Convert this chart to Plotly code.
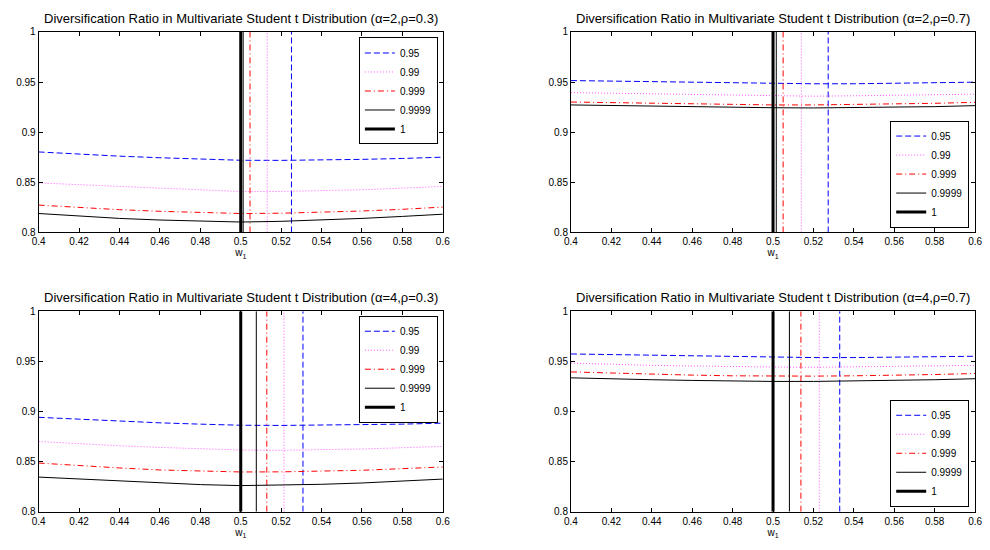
import plotly.graph_objects as go

# ---------------- data ----------------
w1 = [0.40, 0.42, 0.44, 0.46, 0.48, 0.50, 0.52, 0.54, 0.56, 0.58, 0.60]
quantiles = ["0.95", "0.99", "0.999", "0.9999", "1"]
x_ticks = [0.40, 0.42, 0.44, 0.46, 0.48, 0.50, 0.52, 0.54, 0.56, 0.58, 0.60]
x_ticklabels = ["0.4", "0.42", "0.44", "0.46", "0.48", "0.5", "0.52", "0.54", "0.56", "0.58", "0.6"]
y_ticks = [0.80, 0.85, 0.90, 0.95, 1.00]
y_ticklabels = ["0.8", "0.85", "0.9", "0.95", "1"]
y_range = [0.8, 1.0]

titles = [
    "Diversification Ratio in Multivariate Student t Distribution (α=2,ρ=0.3)",
    "Diversification Ratio in Multivariate Student t Distribution (α=2,ρ=0.7)",
    "Diversification Ratio in Multivariate Student t Distribution (α=4,ρ=0.3)",
    "Diversification Ratio in Multivariate Student t Distribution (α=4,ρ=0.7)",
]

# panel 1: alpha=2, rho=0.3
p1_095 = [0.8803, 0.8781, 0.8761, 0.8745, 0.8732, 0.8720, 0.8719, 0.8722, 0.8729, 0.8738, 0.8751]
p1_099 = [0.8494, 0.8475, 0.8459, 0.8442, 0.8426, 0.8408, 0.8409, 0.8416, 0.8426, 0.8442, 0.8459]
p1_0999 = [0.8273, 0.8247, 0.8227, 0.8211, 0.8198, 0.8189, 0.8192, 0.8201, 0.8214, 0.8231, 0.8253]
p1_09999 = [0.8189, 0.8163, 0.8140, 0.8124, 0.8111, 0.8104, 0.8111, 0.8124, 0.8140, 0.8160, 0.8182]
p1_opt = [0.5251, 0.5131, 0.5046, 0.5012, 0.5000]

# panel 2: alpha=2, rho=0.7
p2_095 = [0.9515, 0.9509, 0.9502, 0.9499, 0.9493, 0.9485, 0.9483, 0.9483, 0.9486, 0.9493, 0.9499]
p2_099 = [0.9395, 0.9389, 0.9382, 0.9376, 0.9369, 0.9361, 0.9359, 0.9363, 0.9366, 0.9372, 0.9379]
p2_0999 = [0.9301, 0.9294, 0.9288, 0.9281, 0.9275, 0.9272, 0.9272, 0.9275, 0.9281, 0.9288, 0.9298]
p2_09999 = [0.9272, 0.9265, 0.9259, 0.9252, 0.9249, 0.9244, 0.9242, 0.9246, 0.9249, 0.9255, 0.9265]
p2_opt = [0.5273, 0.5140, 0.5050, 0.5016, 0.5000]

# panel 3: alpha=4, rho=0.3
p3_095 = [0.8941, 0.8921, 0.8902, 0.8886, 0.8873, 0.8862, 0.8860, 0.8863, 0.8866, 0.8873, 0.8883]
p3_099 = [0.8700, 0.8677, 0.8657, 0.8641, 0.8628, 0.8615, 0.8612, 0.8615, 0.8625, 0.8638, 0.8651]
p3_0999 = [0.8485, 0.8459, 0.8436, 0.8416, 0.8403, 0.8396, 0.8397, 0.8403, 0.8413, 0.8429, 0.8446]
p3_09999 = [0.8345, 0.8325, 0.8306, 0.8286, 0.8270, 0.8260, 0.8263, 0.8273, 0.8286, 0.8302, 0.8325]
p3_opt = [0.5308, 0.5214, 0.5129, 0.5077, 0.5000]

# panel 4: alpha=4, rho=0.7
p4_095 = [0.9573, 0.9567, 0.9560, 0.9554, 0.9547, 0.9540, 0.9537, 0.9537, 0.9540, 0.9544, 0.9550]
p4_099 = [0.9482, 0.9469, 0.9459, 0.9453, 0.9446, 0.9443, 0.9440, 0.9443, 0.9446, 0.9453, 0.9459]
p4_0999 = [0.9394, 0.9381, 0.9371, 0.9362, 0.9355, 0.9352, 0.9352, 0.9355, 0.9358, 0.9368, 0.9378]
p4_09999 = [0.9335, 0.9322, 0.9316, 0.9309, 0.9303, 0.9299, 0.9299, 0.9303, 0.9306, 0.9316, 0.9326]
p4_opt = [0.5330, 0.5229, 0.5138, 0.5081, 0.5000]

panels = [
    ([p1_095, p1_099, p1_0999, p1_09999], p1_opt),
    ([p2_095, p2_099, p2_0999, p2_09999], p2_opt),
    ([p3_095, p3_099, p3_0999, p3_09999], p3_opt),
    ([p4_095, p4_099, p4_0999, p4_09999], p4_opt),
]

# ---------------- styles / layout ----------------
styles = [
    dict(color="#0000ff", width=1, dash="6px,3px"),
    dict(color="#ff55ff", width=1, dash="1px,2px"),
    dict(color="#ff0000", width=1, dash="6px,3px,1px,3px"),
    dict(color="#000000", width=1, dash="solid"),
    dict(color="#000000", width=3, dash="solid"),
]

# the page body adds an 8px margin, so the figure is laid out 8px up/left
OFF = 8
W, H = 990 - OFF, 550 - OFF


def px_x(v):
    return (v - OFF) / W


def px_y(v):
    return 1 - (v - OFF) / H


xdom = [[px_x(32), px_x(442)], [px_x(572), px_x(982)], [px_x(32), px_x(442)], [px_x(572), px_x(982)]]
ydom = [[px_y(232), px_y(27.33)], [px_y(232), px_y(27.33)],
        [px_y(517), px_y(312.33)], [px_y(517), px_y(312.33)]]
legend_pos = [
    dict(x=px_x(437), y=px_y(33), xanchor="right", yanchor="top"),
    dict(x=px_x(976), y=px_y(227), xanchor="right", yanchor="bottom"),
    dict(x=px_x(437), y=px_y(317), xanchor="right", yanchor="top"),
    dict(x=px_x(976), y=px_y(512), xanchor="right", yanchor="bottom"),
]
title_y = [14, 14, 298, 298]

FONT = "Liberation Sans, Arial, Helvetica, sans-serif"

fig = go.Figure()
layout = dict(
    width=W, height=H, margin=dict(l=0, r=0, t=0, b=0),
    paper_bgcolor="white", plot_bgcolor="white",
    font=dict(family=FONT, size=10, color="black"),
    annotations=[],
)

for i, (curves, opt) in enumerate(panels):
    k = "" if i == 0 else str(i + 1)
    xa, ya = "x" + k, "y" + k
    leg = "legend" + k
    for j, q in enumerate(quantiles):
        if j < len(curves):
            xs = list(w1) + [None, opt[j], opt[j]]
            ys = list(curves[j]) + [None, y_range[0], y_range[1]]
        else:
            xs = [opt[j], opt[j]]
            ys = [y_range[0], y_range[1]]
        fig.add_trace(go.Scatter(
            x=xs, y=ys, mode="lines", name=q, line=styles[j],
            xaxis=xa, yaxis=ya, legend=leg, connectgaps=False,
            hoverinfo="skip",
        ))
    axcommon = dict(showline=True, linecolor="black", linewidth=1, mirror="ticks",
                    ticks="inside", ticklen=4, tickcolor="black", tickwidth=1,
                    showgrid=False, zeroline=False, ticklabeloverflow="allow",
                    tickfont=dict(family=FONT, size=10, color="black"))
    layout["xaxis" + k] = dict(
        axcommon, domain=xdom[i], range=[0.4, 0.6], tickvals=x_ticks,
        ticktext=x_ticklabels, anchor=ya,
        title=dict(text="w<sub>1</sub>", font=dict(family=FONT, size=10), standoff=1),
    )
    layout["yaxis" + k] = dict(
        axcommon, domain=ydom[i], range=y_range, tickvals=y_ticks,
        ticktext=y_ticklabels, anchor=xa,
    )
    layout[leg] = dict(
        legend_pos[i], bgcolor="white", bordercolor="black", borderwidth=1,
        font=dict(family=FONT, size=10, color="black"),
        tracegroupgap=0, itemwidth=30,
    )
    layout["annotations"].append(dict(
        text=titles[i], xref="paper", yref="paper",
        x=(xdom[i][0] + xdom[i][1]) / 2, y=px_y(title_y[i]),
        xanchor="center", yanchor="middle", showarrow=False,
        font=dict(family=FONT, size=13, color="black"),
    ))

fig.update_layout(**layout)
fig.write_html("out.html")
